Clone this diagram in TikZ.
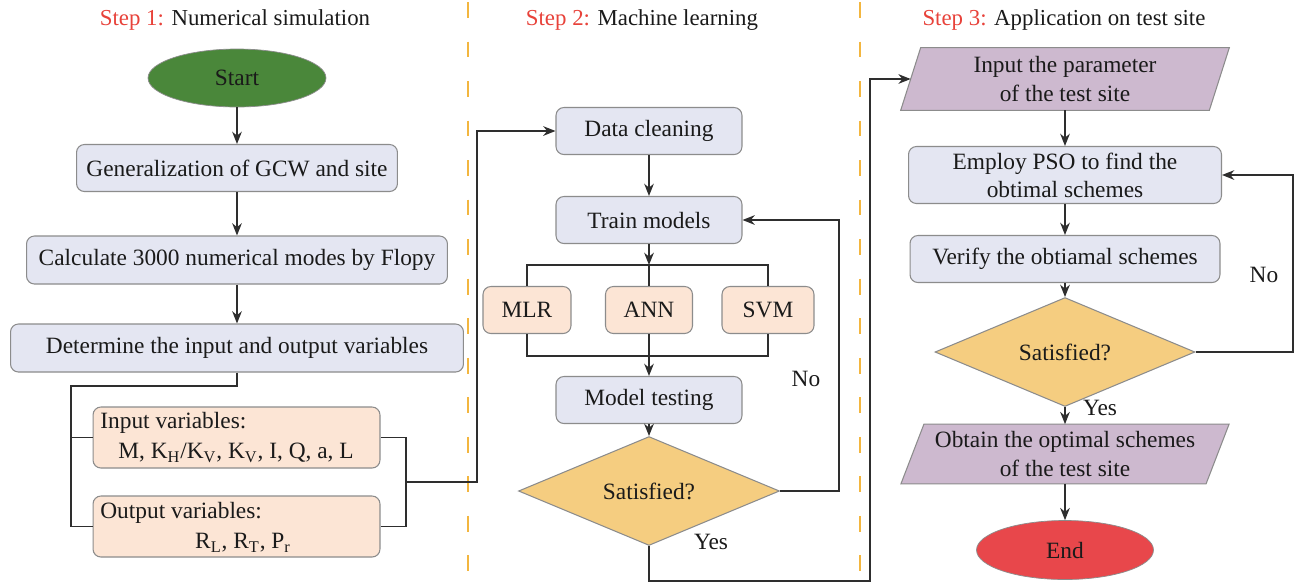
\documentclass[tikz,border=0pt]{standalone}
\usepackage{fontspec}
\setmainfont{LiberationSerif}[Extension=.ttf, UprightFont=*-Regular, BoldFont=*-Bold, ItalicFont=*-Italic]
\usetikzlibrary{shapes.geometric,arrows.meta,backgrounds}
\definecolor{boxblue}{HTML}{E4E6F2}
\definecolor{boxorange}{HTML}{FCE5D5}
\definecolor{decfill}{HTML}{F5CD80}
\definecolor{parafill}{HTML}{CDB9CF}
\definecolor{startgreen}{HTML}{4A873A}
\definecolor{endred}{HTML}{E8474B}
\definecolor{bordergray}{HTML}{8C8C8C}
\definecolor{linecol}{HTML}{2E2E2E}
\definecolor{txt}{HTML}{1A1A1A}
\definecolor{stepred}{HTML}{E8423A}
\definecolor{sepcol}{HTML}{F3B63F}
\begin{document}
\begin{tikzpicture}[x=0.02cm,y=-0.02cm,
  every node/.style={font=\fontsize{13.3}{16}\selectfont, text=txt},
  blbox/.style={rectangle, rounded corners=4.5pt, draw=bordergray, fill=boxblue, line width=0.6pt, inner sep=0pt, align=center},
  orbox/.style={rectangle, rounded corners=4.5pt, draw=bordergray, fill=boxorange, line width=0.6pt, inner sep=0pt, align=center},
  decis/.style={diamond, draw=bordergray, fill=decfill, line width=0.6pt, inner sep=0pt},
  term/.style={ellipse, draw=bordergray, line width=0.4pt, inner sep=0pt},
  para/.style={rectangle, inner sep=0pt, align=center},
  conn/.style={draw=linecol, line width=0.75pt},
  arr/.style={conn, -{Stealth[length=7pt,width=5.5pt]}},
  sep/.style={draw=sepcol, line width=1.1pt, dash pattern=on 9pt off 13.5pt},
  lbl/.style={inner sep=0pt},
  head/.style={inner sep=0pt, font=\fontsize{13}{16}\selectfont}
]
\useasboundingbox (0,0) rectangle (1296,583);

% separators
\draw[sep] (468,2) -- (468,583);
\draw[sep] (860,2) -- (860,583);

% headers
\node[head] (h1) at (235,20) {\textcolor{stepred}{Step 1:} Numerical simulation};
\node[head] (h2) at (642,20) {\textcolor{stepred}{Step 2:} Machine learning};
\node[head] (h3) at (1064,20) {\textcolor{stepred}{Step 3:} Application on test site};

% ---------- Step 1 ----------
\node[term, fill=startgreen, minimum width=3.56cm, minimum height=1.16cm] (start) at (237,78) {Start};
\node[blbox, minimum width=6.42cm, minimum height=0.94cm] (gen) at (237,168) {Generalization of GCW and site};
\node[blbox, minimum width=8.42cm, minimum height=0.96cm] (calc) at (237,260) {Calculate 3000 numerical modes by Flopy};
\node[blbox, minimum width=9.06cm, minimum height=0.96cm] (det) at (237,348) {Determine the input and output variables};
\node[orbox, minimum width=5.74cm, minimum height=1.22cm] (inv) at (236.5,437.5) {};
\node[orbox, minimum width=5.74cm, minimum height=1.22cm] (outv) at (236.5,526.5) {};
\node[lbl, anchor=west] (invt) at (100,423) {Input variables:};
\node[lbl] (invv) at (236,453) {M, K\textsubscript{H}/K\textsubscript{V}, K\textsubscript{V}, I, Q, a, L};
\node[lbl, anchor=west] (outt) at (100,513) {Output variables:};
\node[lbl] (outvv) at (243,543) {R\textsubscript{L}, R\textsubscript{T}, P\textsubscript{r}};

\draw[arr] (start) -- (gen);
\draw[arr] (gen) -- (calc);
\draw[arr] (calc) -- (det);
\coordinate (lbus) at (71,386);
\draw[conn] (det.south) |- (lbus) |- (outv.west);
\draw[conn] (lbus) |- (inv.west);
\coordinate (rbus) at (406,482);
\draw[conn] (inv.east) -| (rbus);
\draw[conn] (outv.east) -| (rbus);
\coordinate (up1) at (477,482);

% ---------- Step 2 ----------
\node[blbox, minimum width=3.72cm, minimum height=0.94cm] (dc) at (649,131) {Data cleaning};
\node[blbox, minimum width=3.72cm, minimum height=0.94cm] (tm) at (649,220) {Train models};
\node[orbox, minimum width=1.76cm, minimum height=0.94cm] (mlr) at (527,310) {MLR};
\node[orbox, minimum width=1.74cm, minimum height=0.94cm] (ann) at (649,310) {ANN};
\node[orbox, minimum width=1.84cm, minimum height=0.94cm] (svm) at (768,310) {SVM};
\node[blbox, minimum width=3.72cm, minimum height=0.94cm] (mt) at (649,400) {Model testing};
\node[decis, minimum width=5.22cm, minimum height=1.68cm] (d1) at (649,491) {Satisfied?};

\draw[arr] (rbus) -- (up1) |- (dc.west);
\draw[arr] (dc) -- (tm);
\coordinate (tbus) at (649,265);
\draw[arr] (tm.south) -- (tbus);
\draw[conn] (tbus) -- (ann.north);
\draw[conn] (mlr.north) |- (tbus) -| (svm.north);
\coordinate (bbus) at (649,356);
\draw[conn] (mlr.south) |- (bbus) -| (svm.south);
\draw[arr] (ann.south) -- (mt.north);
\draw[arr] (mt) -- (d1);
\coordinate (no1) at (839,220);
\draw[arr] (d1.east) -| (no1) -- (tm.east);
\node[lbl] (no1l) at (806,379) {No};
\node[lbl] (yes1l) at (711,542) {Yes};

% ---------- Step 3 ----------
\node[para, minimum width=6.16cm, minimum height=1.24cm] (ip) at (1065,79) {Input the parameter\\of the test site};
\node[blbox, minimum width=6.26cm, minimum height=1.14cm] (pso) at (1065,175) {Employ PSO to find the\\obtimal schemes};
\node[blbox, minimum width=6.2cm, minimum height=0.94cm] (ver) at (1065,259) {Verify the obtiamal schemes};
\node[decis, minimum width=5.2cm, minimum height=1.6cm] (d2) at (1065,352) {Satisfied?};
\node[para, minimum width=6.09cm, minimum height=1.18cm] (ob) at (1065,454) {Obtain the optimal schemes\\of the test site};
\node[term, fill=endred, minimum width=3.54cm, minimum height=1.18cm] (end) at (1065,550) {End};

\begin{scope}[on background layer]
\fill[white] (0,0) rectangle (1296,583);
\filldraw[fill=parafill, draw=bordergray, line width=0.6pt]
  ([xshift=0.2cm]ip.north west) -- ([xshift=0.2cm]ip.north east) --
  ([xshift=-0.2cm]ip.south east) -- ([xshift=-0.2cm]ip.south west) -- cycle;
\filldraw[fill=parafill, draw=bordergray, line width=0.6pt]
  ([xshift=0.23cm]ob.north west) -- ([xshift=0.23cm]ob.north east) --
  ([xshift=-0.23cm]ob.south east) -- ([xshift=-0.23cm]ob.south west) -- cycle;
\end{scope}

\coordinate (yes1) at (870,581);
\draw[arr] (d1.south) |- (yes1) |- (ip.west);
\draw[arr] (ip) -- (pso);
\draw[arr] (pso) -- (ver);
\draw[arr] (ver) -- (d2);
\draw[arr] (d2) -- (ob);
\draw[arr] (ob) -- (end);
\coordinate (no2) at (1293,175);
\draw[arr] (d2.east) -| (no2) -- (pso.east);
\node[lbl] (no2l) at (1264,275) {No};
\node[lbl] (yes2l) at (1100,408) {Yes};
\end{tikzpicture}
\end{document}
